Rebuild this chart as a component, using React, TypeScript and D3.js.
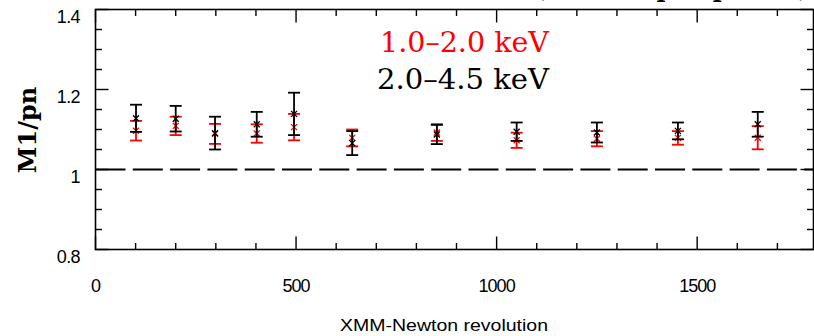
import React from "react";
import * as d3 from "d3";

const revolutions = [101, 200, 298, 402, 495, 640, 851, 1050, 1250, 1452, 1651];
const softRatio = [1.097, 1.109, 1.089, 1.09, 1.106, 1.079, 1.0925, 1.073, 1.077, 1.079, 1.0795];
const softErr = [0.0245, 0.023, 0.025, 0.023, 0.033, 0.021, 0.021, 0.019, 0.019, 0.017, 0.029];
const hardRatio = [1.128, 1.127, 1.091, 1.113, 1.139, 1.066, 1.0875, 1.0945, 1.0925, 1.0965, 1.113];
const hardErr = [0.034, 0.032, 0.041, 0.031, 0.053, 0.03, 0.024, 0.023, 0.025, 0.021, 0.031];

const xMajorTicks = [0, 500, 1000, 1500];
const xTickLabels = ["0", "500", "1000", "1500"];
const yMajorTicks = [0.8, 1.0, 1.2, 1.4];
const yTickLabels = ["0.8", "1", "1.2", "1.4"];
const legendLabels = ["1.0\u20132.0  keV", "2.0\u20134.5  keV"];

const W = 814;
const H = 336;
const left = 95.5;
const right = 813.5;
const top = 9.5;
const bottom = 249.5;

export default function App() {
  const x = d3.scaleLinear().domain([0, 1790]).range([left, right]);
  const y = d3.scaleLinear().domain([0.8, 1.4]).range([bottom, top]);

  const xMinor = d3.range(0, 1790, 100).filter((v) => v % 500 !== 0);
  const yMinor = d3.range(0.8, 1.4001, 0.05).filter((v) => Math.abs(Math.round(v * 5) - v * 5) > 1e-6);

  const majorLen = 13;
  const minorLen = 6.5;
  const capHalf = 6;

  const series = [
    { vals: softRatio, errs: softErr, color: "#ff0000" },
    { vals: hardRatio, errs: hardErr, color: "#000000" },
  ];

  return (
    <svg
      width={W}
      height={H}
      style={{ position: "absolute", left: 0, top: 0, background: "#fff" }}
    >
      <rect x={0} y={0} width={W} height={H} fill="#fff" />
      {/* cropped title */}
      <text
        x={810}
        y={-3}
        textAnchor="end"
        fontFamily="DejaVu Serif"
        fontWeight="bold"
        fontSize={24}
        fill="#000"
      >
        Cross-calibration (stacked pn spectra)
      </text>

      {/* frame */}
      <rect
        x={left}
        y={top}
        width={right - left}
        height={bottom - top}
        fill="none"
        stroke="#000"
        strokeWidth={1.6}
      />

      {/* x ticks bottom & top */}
      {xMajorTicks.map((v) => (
        <g key={"xM" + v}>
          <line x1={x(v)} x2={x(v)} y1={bottom} y2={bottom - majorLen} stroke="#000" strokeWidth={1.4} />
          <line x1={x(v)} x2={x(v)} y1={top} y2={top + majorLen} stroke="#000" strokeWidth={1.4} />
        </g>
      ))}
      {xMinor.map((v) => (
        <g key={"xm" + v}>
          <line x1={x(v)} x2={x(v)} y1={bottom} y2={bottom - minorLen} stroke="#000" strokeWidth={1.4} />
          <line x1={x(v)} x2={x(v)} y1={top} y2={top + minorLen} stroke="#000" strokeWidth={1.4} />
        </g>
      ))}
      {/* y ticks left & right */}
      {yMajorTicks.map((v) => (
        <g key={"yM" + v}>
          <line x1={left} x2={left + majorLen} y1={y(v)} y2={y(v)} stroke="#000" strokeWidth={1.4} />
          <line x1={right} x2={right - majorLen} y1={y(v)} y2={y(v)} stroke="#000" strokeWidth={1.4} />
        </g>
      ))}
      {yMinor.map((v) => (
        <g key={"ym" + v}>
          <line x1={left} x2={left + minorLen} y1={y(v)} y2={y(v)} stroke="#000" strokeWidth={1.4} />
          <line x1={right} x2={right - minorLen} y1={y(v)} y2={y(v)} stroke="#000" strokeWidth={1.4} />
        </g>
      ))}

      {/* tick labels */}
      {xMajorTicks.map((v, i) => (
        <text
          key={"xl" + v}
          x={x(v)}
          y={292}
          textAnchor="middle"
          fontFamily="Liberation Sans, Arial, sans-serif"
          fontSize={18}
          fill="#000"
          letterSpacing={-1}
        >
          {xTickLabels[i]}
        </text>
      ))}
      {yMajorTicks.map((v, i) => (
        <text
          key={"yl" + v}
          x={80}
          y={y(v) + 13.5}
          textAnchor="end"
          fontFamily="Liberation Sans, Arial, sans-serif"
          fontSize={18}
          fill="#000"
          letterSpacing={-0.6}
        >
          {yTickLabels[i]}
        </text>
      ))}

      {/* axis titles */}
      <text
        x={444}
        y={331}
        textAnchor="middle"
        fontFamily="Liberation Sans, Arial, sans-serif"
        fontSize={17}
        fill="#000"
        textLength={208}
        lengthAdjust="spacingAndGlyphs"
      >
        XMM-Newton revolution
      </text>
      <text
        transform={`translate(36, 130) rotate(-90)`}
        textAnchor="middle"
        fontFamily="DejaVu Serif"
        fontWeight="bold"
        fontSize={24}
        fill="#000"
      >
        M1/pn
      </text>

      {/* reference line at 1 */}
      <line
        x1={left}
        x2={right}
        y1={y(1)}
        y2={y(1)}
        stroke="#000"
        strokeWidth={2}
        strokeDasharray="30 7.3"
      />

      {/* legend */}
      <text x={380} y={52} fontFamily="DejaVu Serif" fontSize={27} fill="#ff0000" textLength={169} lengthAdjust="spacingAndGlyphs">
        {legendLabels[0]}
      </text>
      <text x={377} y={89} fontFamily="DejaVu Serif" fontSize={27} fill="#000" textLength={172} lengthAdjust="spacingAndGlyphs">
        {legendLabels[1]}
      </text>

      {/* error bars */}
      {series.map((s, si) => (
        <g key={"s" + si} stroke={s.color} strokeWidth={1.8} fill="none">
          {revolutions.map((r, i) => {
            const cx = x(r);
            const yHi = y(s.vals[i] + s.errs[i]);
            const yLo = y(s.vals[i] - s.errs[i]);
            const cy = y(s.vals[i]);
            return (
              <g key={i}>
                <line x1={cx} x2={cx} y1={yHi} y2={yLo} />
                <line x1={cx - capHalf} x2={cx + capHalf} y1={yHi} y2={yHi} />
                <line x1={cx - capHalf} x2={cx + capHalf} y1={yLo} y2={yLo} />
                <line x1={cx - 3} x2={cx + 3} y1={cy - 3} y2={cy + 3} strokeWidth={1.3} />
                <line x1={cx - 3} x2={cx + 3} y1={cy + 3} y2={cy - 3} strokeWidth={1.3} />
              </g>
            );
          })}
        </g>
      ))}
    </svg>
  );
}
